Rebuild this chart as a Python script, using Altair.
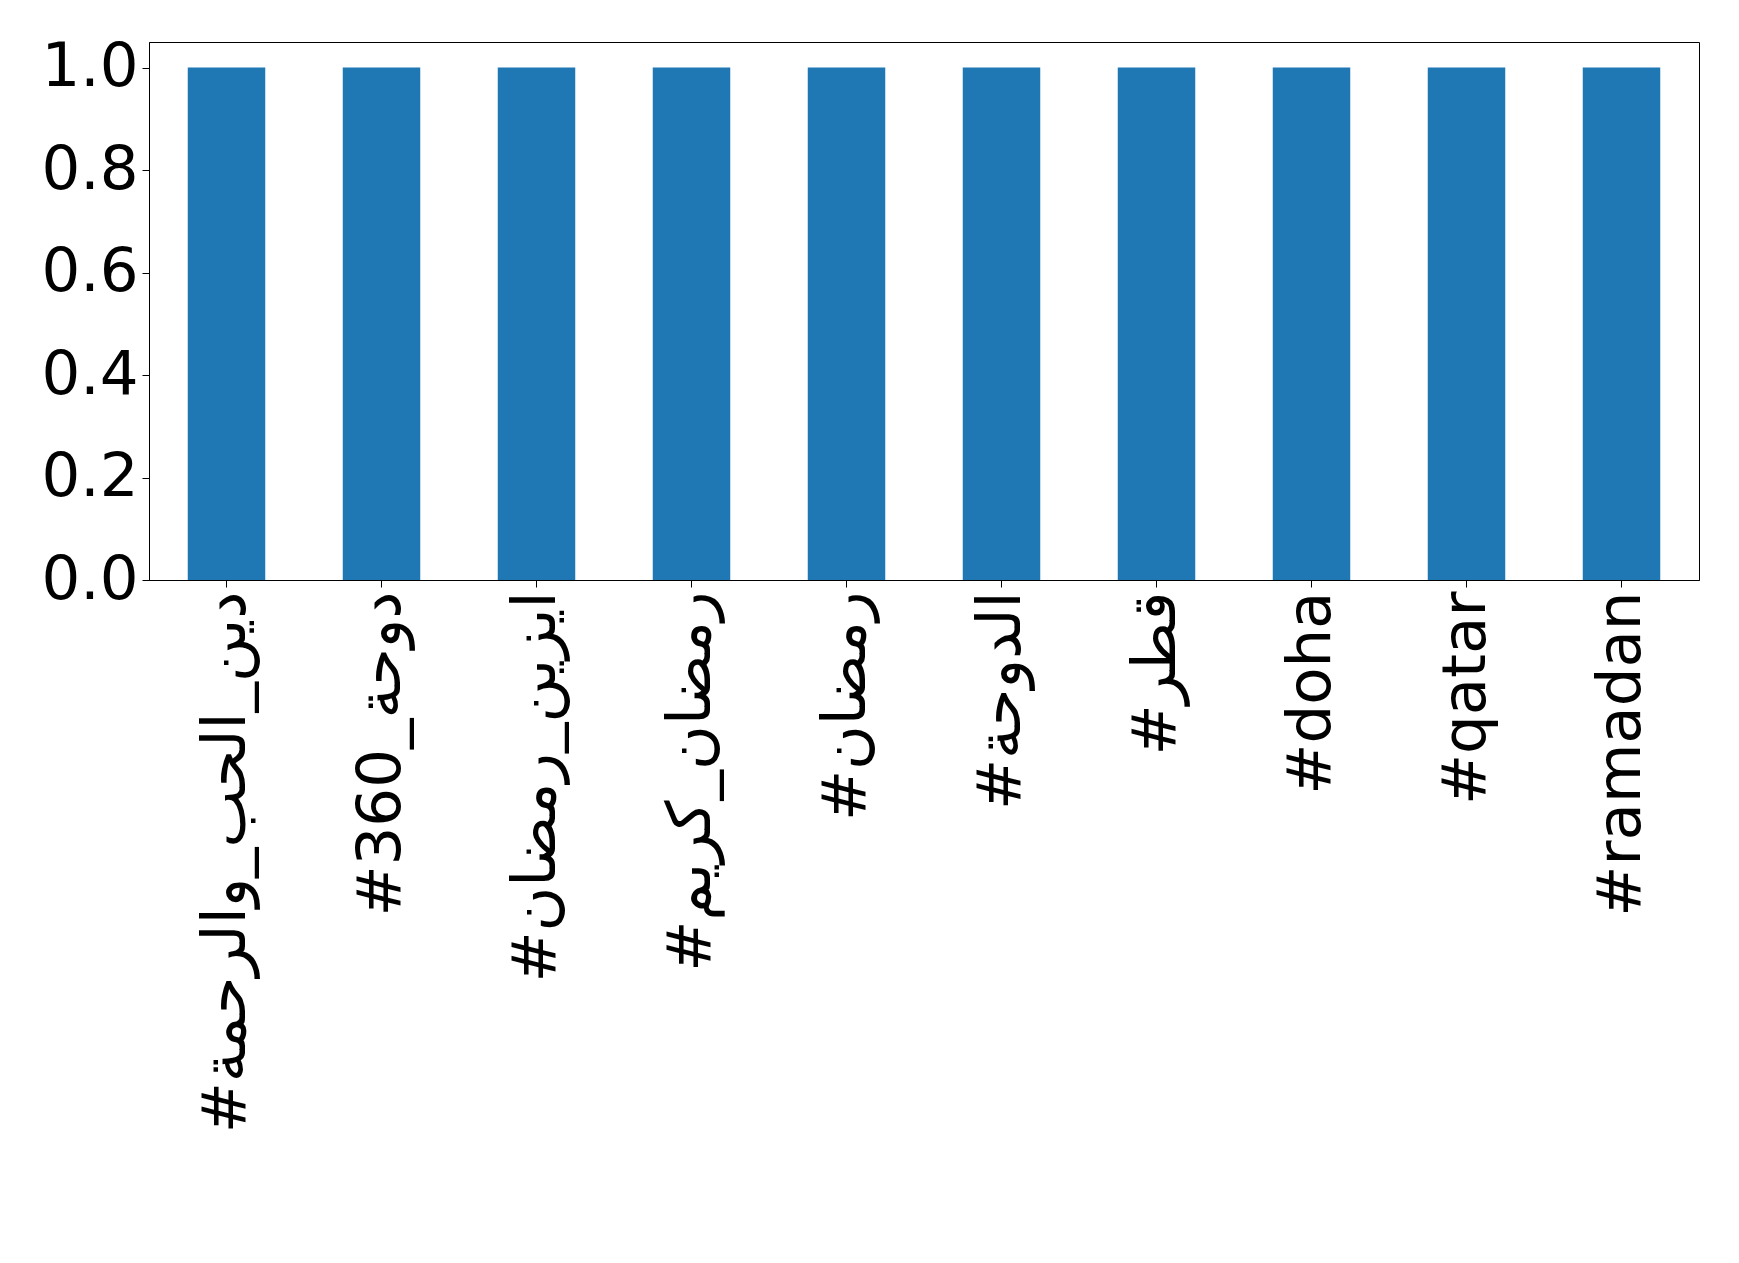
import altair as alt
import pandas as pd

hashtags = ["#دين_الحب_والرحمة", "#دوحة_360", "#ايزين_رمضان", "#رمضان_كريم", "#رمضان",
            "#الدوحة", "#قطر", "#doha", "#qatar", "#ramadan"]
counts = [1, 1, 1, 1, 1, 1, 1, 1, 1, 1]

df = pd.DataFrame({"tag": hashtags, "count": counts})

chart = alt.Chart(df).mark_bar(color="#1f77b4").encode(
    x=alt.X("tag:N", sort=None, title=None,
            scale=alt.Scale(paddingInner=0.5, paddingOuter=0.25),
            axis=alt.Axis(labelAngle=270, labelFontSize=61, labelFont="DejaVu Sans",
                          labelColor="black", tickColor="black", tickSize=7,
                          domainColor="black", labelLimit=1000, labelPadding=4)),
    y=alt.Y("count:Q", title=None,
            scale=alt.Scale(domain=[0, 1.05], nice=False),
            axis=alt.Axis(values=[0, 0.2, 0.4, 0.6, 0.8, 1.0], format=".1f",
                          labelFontSize=61, labelFont="DejaVu Sans", labelColor="black",
                          tickColor="black", tickSize=7, domainColor="black",
                          grid=False, labelPadding=4)),
).properties(
    width=1550, height=538,
    padding={"left": 32, "top": 28, "right": 5, "bottom": 5},
).configure_view(stroke="black", strokeWidth=1).configure_axis(domainWidth=1, tickWidth=1)

chart.save("out.html", embed_options={"renderer": "svg", "actions": False})
